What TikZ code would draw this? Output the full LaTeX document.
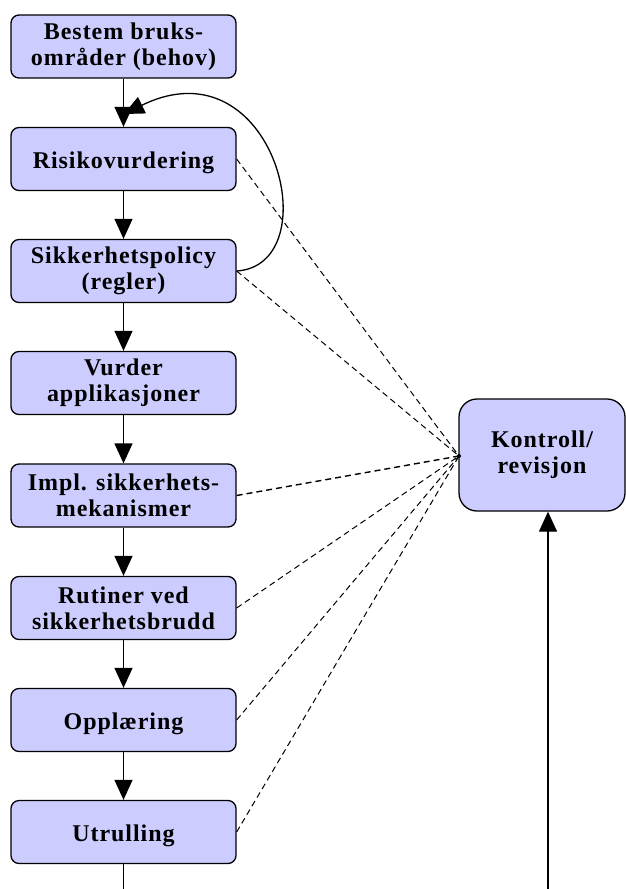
\documentclass[tikz,border=0pt]{standalone}
\usepackage{fontspec}
\setmainfont{Liberation Serif}[LetterSpace=4]
\usetikzlibrary{arrows.meta}
\definecolor{boxfill}{HTML}{CCCCFF}
\tikzset{
  stepbox/.style={draw, fill=boxfill, rounded corners=8pt, line width=1.3pt,
    minimum width=225pt, minimum height=63pt, inner sep=0pt, align=center,
    font=\fontsize{24}{26}\selectfont\bfseries,
    execute at begin node=\rule{0pt}{23.5pt}},
  ctrlbox/.style={stepbox, rounded corners=18pt, minimum width=166pt, minimum height=112pt},
  flow/.style={line width=1.3pt, -{Triangle[length=20pt,width=18pt]}},
  audit/.style={dashed, line width=1pt, dash pattern=on 6pt off 4pt}
}
\begin{document}
\begin{tikzpicture}[x=1pt, y=-1pt]
\useasboundingbox (0,0) rectangle (626,889);
% main process chain
\node[stepbox] (b1) at (123.5,46.5) {Bestem bruks-\\områder (behov)};
\node[stepbox] (b2) at (123.5,159) {Risikovurdering};
\node[stepbox] (b3) at (123.5,271) {Sikkerhetspolicy\\(regler)};
\node[stepbox] (b4) at (123.5,383) {Vurder\\applikasjoner};
\node[stepbox] (b5) at (123.5,495.5) {Impl. sikkerhets-\\mekanismer};
\node[stepbox] (b6) at (123.5,608) {Rutiner ved\\sikkerhetsbrudd};
\node[stepbox] (b7) at (123.5,720) {Opplæring};
\node[stepbox] (b8) at (123.5,832) {Utrulling};
% audit box
\node[ctrlbox] (k) at (542,455) {Kontroll/\\revisjon};
\coordinate (kin) at (459,456);
\coordinate (down) at (123.5,889);
\coordinate (up) at (548,889);
\coordinate (back) at (124,114);
% arrows between the steps
\foreach \a/\b in {b1/b2, b2/b3, b3/b4, b4/b5, b5/b6, b6/b7, b7/b8}
  \draw[flow] (\a.south) -- (\b.north);
\draw[line width=1.3pt] (b8.south) -- (down);
\draw[flow] (up) -- (k.south -| up);
% feedback from policy back to risk assessment
\draw[flow] (b3.east) .. controls (330,265) and (275,40) .. (back);
% dashed links to the audit box
\foreach \s in {b2, b3, b6, b7, b8}
  \draw[audit] (\s.east) -- (kin);
\draw[audit, line width=1.4pt] (b5.east) -- (kin);
\fill (kin) circle (2pt);
\end{tikzpicture}
\end{document}
